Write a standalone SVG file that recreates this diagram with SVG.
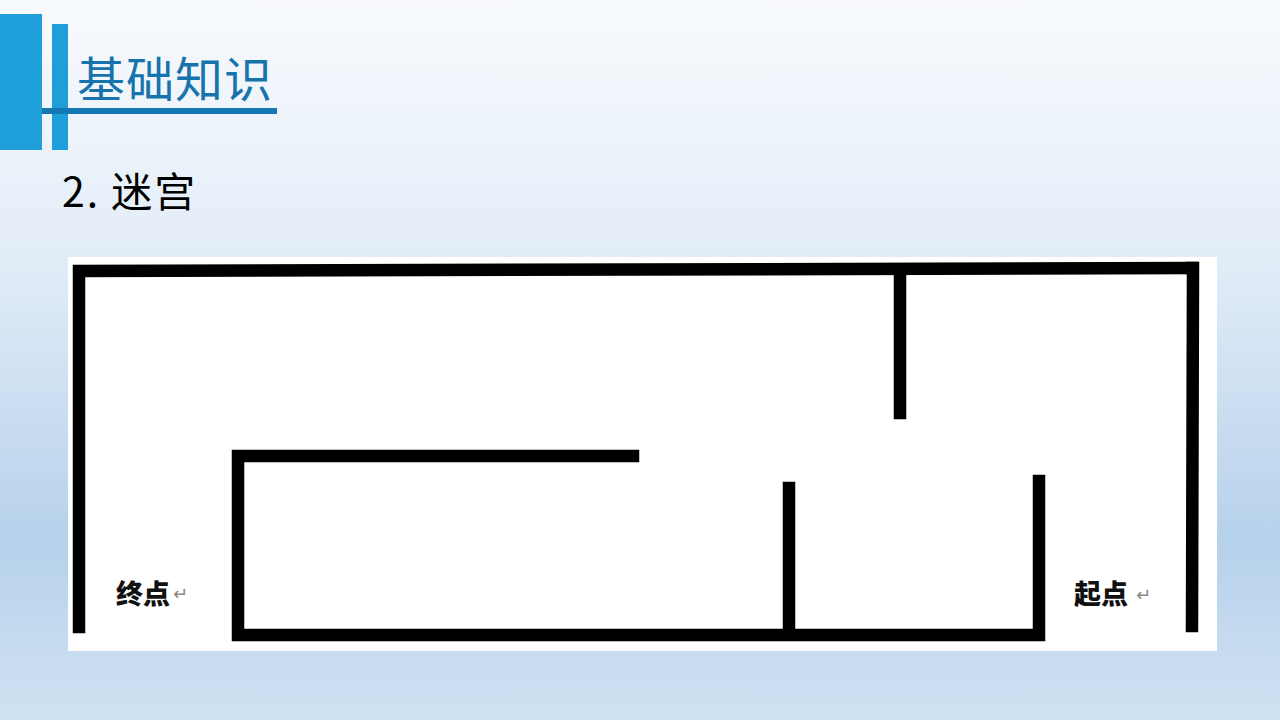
<svg xmlns="http://www.w3.org/2000/svg" width="1280" height="720" viewBox="0 0 1280 720">
<defs>
<linearGradient id="bg" x1="0" y1="0" x2="0" y2="1">
<stop offset="0" stop-color="#f8fafd"/>
<stop offset="0.35" stop-color="#e3edf8"/>
<stop offset="0.75" stop-color="#b6d1eb"/>
<stop offset="1" stop-color="#d0e2f3"/>
</linearGradient>
<style>
.wall{stroke:#000;stroke-width:12.5;fill:none;stroke-linecap:square;stroke-linejoin:miter}
.lbl{font-family:"Noto Sans CJK SC",sans-serif;font-weight:900;font-size:27px;fill:#111}
.ret{font-family:"DejaVu Sans",sans-serif;font-size:18px;fill:#888}
</style>
</defs>
<rect width="1280" height="720" fill="url(#bg)"/>
<g id="header">
<rect x="0" y="14" width="42" height="136" fill="#1f9fd9"/>
<rect x="52" y="24" width="16" height="126" fill="#1f9fd9"/>
<rect x="42" y="108" width="235" height="6" fill="#1577b3"/>
<text x="77" y="97" font-family="Noto Sans CJK SC, sans-serif" font-size="48" letter-spacing="1" fill="#1673ac">基础知识</text>
</g>
<text id="subtitle" x="62" y="207" font-family="Noto Sans CJK SC, sans-serif" font-size="41" letter-spacing="2" fill="#000">2. 迷宫</text>
<rect id="maze-bg" x="68" y="257" width="1149" height="394" fill="#fff"/>
<g id="maze">
<path class="wall" d="M79,627 V271 L1192,268"/>
<path class="wall" d="M1192,268 L1193,268 L1192,626"/>
<path class="wall" d="M900,275 V413"/>
<path class="wall" d="M633,456 H238 V635 H1039 V481"/>
<path class="wall" d="M789,488 V630"/>
</g>
<g id="labels">
<text class="lbl" x="116" y="604">终点</text>
<text class="ret" x="173" y="600">↵</text>
<text class="lbl" x="1074" y="604">起点</text>
<text class="ret" x="1136" y="601">↵</text>
</g>
</svg>
